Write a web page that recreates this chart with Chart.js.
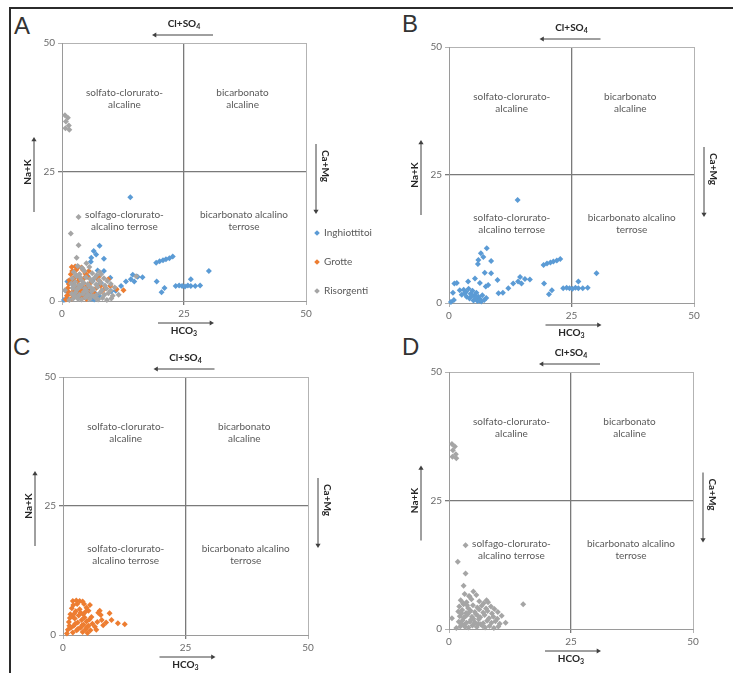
<!DOCTYPE html>
<html>
<head>
<meta charset="utf-8">
<script src="https://cdn.jsdelivr.net/npm/chart.js@4.4.1/dist/chart.umd.min.js"></script>
<style>
body { margin: 0; background: #fff; width: 733px; height: 673px; overflow: hidden; position: relative; font-family: Lato, 'Open Sans', sans-serif; }
.frame { position: absolute; left: 9px; top: 7px; width: 740px; height: 680px; border-left: 2px solid #2b2b2b; border-top: 2px solid #2b2b2b; }
canvas { position: absolute; }
.letter { position: absolute; font-family: 'Liberation Sans', Arial, sans-serif; font-size: 24px; line-height: 24px; color: #333; }
#legend { position: absolute; left: 315px; top: 225px; font-size: 10px; color: #595959; }
#legend div { height: 29px; line-height: 14px; white-space: nowrap; }
#legend .mk { display: inline-block; width: 4px; height: 4px; transform: rotate(45deg); margin-right: 5px; vertical-align: middle; }
</style>
</head>
<body>
<div class="frame"></div>
<div class="letter" style="left:14px;top:14px">A</div>
<div class="letter" style="left:402px;top:12px">B</div>
<div class="letter" style="left:13px;top:335px">C</div>
<div class="letter" style="left:402px;top:335px">D</div>

<canvas id="cA" width="360" height="340" style="left:10px;top:8px"></canvas>
<canvas id="cB" width="358" height="340" style="left:375px;top:8px"></canvas>
<canvas id="cC" width="360" height="333" style="left:10px;top:340px"></canvas>
<canvas id="cD" width="358" height="333" style="left:375px;top:340px"></canvas>
<div id="legend"></div>

<script>
// ---- data ----
const axisTicks = [0, 25, 50];
const seriesNames = ['Inghiottitoi', 'Grotte', 'Risorgenti'];

const inghiottitoiX = [14.0, 7.7, 6.5, 7.0, 6.0, 8.6, 5.9, 19.3, 20.0, 20.7, 21.3, 22.0, 22.7, 8.6, 30.1,
  5.3, 3.9, 9.9, 14.5, 14.1, 15.5, 13.1, 16.5, 19.4, 7.5, 8.0, 1.1, 2.2, 12.1, 10.1, 21.0, 20.4, 26.4,
  23.3, 24.0, 24.6, 25.2, 25.8, 26.4, 27.3, 28.3,
  3.0, 3.5, 4.0, 4.4, 4.8, 5.2, 5.6, 6.0, 6.3, 6.8, 7.2, 3.6, 4.2, 5.0, 5.8, 6.6, 7.6, 2.6, 1.0, 0.4,
  1.6, 0.8, 6.3, 7.3, 11.0, 14.8, 4.6, 5.4, 6.2, 3.2];
const inghiottitoiY = [20.1, 10.7, 9.7, 9.0, 8.4, 8.2, 7.6, 7.4, 7.7, 7.9, 8.1, 8.3, 8.6, 5.8, 5.8,
  4.8, 4.2, 4.5, 5.1, 4.2, 4.7, 3.8, 4.6, 3.8, 3.2, 3.5, 3.8, 2.5, 2.9, 1.9, 2.5, 1.7, 4.2,
  2.9, 3.0, 2.9, 2.8, 3.0, 2.9, 2.9, 3.0,
  2.6, 2.2, 2.8, 1.8, 2.4, 1.5, 2.0, 1.2, 0.8, 1.5, 0.6, 1.2, 0.9, 0.5, 0.4, 0.3, 1.0, 1.6, 0.6, 0.2,
  3.9, 2.0, 3.9, 5.9, 2.0, 3.8, 1.3, 1.0, 0.5, 1.9];

const grotteX = [2.0, 2.7, 3.4, 4.0, 4.3, 4.8, 5.2, 4.6, 5.5, 5.8, 7.5, 7.7, 7.2, 9.5, 9.9, 11.2, 12.6,
  6.5, 8.2, 7.0, 8.8, 1.0, 1.2, 1.5, 1.8, 2.0, 2.2, 2.4, 2.6, 2.8, 3.0, 3.2, 3.4, 3.6, 3.8, 4.0, 4.2,
  4.4, 4.6, 4.8, 5.0, 5.2, 5.4, 5.6, 2.1, 1.4, 2.9, 3.6, 0.8, 1.6, 2.5,
  1.3, 1.9, 2.3, 3.1, 3.9, 4.1, 4.9, 6.0, 6.8, 7.9];
const grotteY = [6.6, 6.7, 6.6, 6.5, 6.0, 5.3, 4.7, 4.5, 5.8, 3.5, 4.7, 3.9, 4.3, 4.2, 2.9, 2.3, 2.1,
  1.6, 1.9, 2.5, 2.4, 1.0, 2.5, 4.0, 5.2, 0.5, 1.8, 3.2, 4.6, 0.9, 2.4, 3.8, 5.0, 1.4, 2.9, 0.6, 2.0,
  3.4, 1.1, 2.6, 0.4, 1.8, 3.0, 0.9, 5.8, 3.3, 6.0, 4.3, 0.3, 1.4, 2.2,
  1.8, 3.6, 4.1, 1.2, 1.9, 4.0, 1.5, 2.2, 1.0, 2.9];

const risorgentiX = [0.6, 1.2, 0.8, 1.4, 0.7, 1.5, 3.4, 1.8, 3.4, 3.0, 5.0, 15.2, 7.7, 11.6, 0.6, 4.2,
  3.2, 4.1, 5.6, 2.4, 3.6, 4.6, 6.2, 7.1, 8.0, 2.1, 3.0, 3.9, 4.9, 5.8, 6.7, 7.6, 8.6, 9.3,
  1.9, 2.7, 3.5, 4.4, 5.3, 6.2, 7.0, 7.9, 8.8, 10.0, 10.8, 2.2, 3.0, 3.8, 4.7, 5.5, 6.4, 7.3, 8.2, 9.1, 9.9,
  2.0, 2.8, 3.6, 4.5, 5.3, 6.1, 7.0, 7.8, 8.7, 9.5, 10.4, 2.3, 3.1, 4.0, 4.8, 5.7, 6.5, 7.4, 8.3, 9.2, 10.1, 1.5,
  2.5, 3.3, 4.3, 5.1, 6.0, 6.9, 2.6, 3.4, 4.2, 5.0, 5.9, 2.9, 3.7];
const risorgentiY = [36.0, 35.5, 34.8, 34.0, 33.5, 33.2, 16.3, 13.1, 10.8, 8.4, 7.3, 4.8, 5.6, 1.2, 2.1, 6.3,
  6.8, 6.4, 6.6, 5.6, 5.2, 5.8, 5.4, 5.0, 5.2, 4.4, 4.8, 4.1, 4.6, 4.2, 4.5, 4.0, 4.4, 3.9,
  3.4, 3.7, 3.1, 3.6, 3.3, 3.8, 3.2, 3.5, 3.0, 3.3, 2.6, 2.5, 2.2, 2.8, 2.4, 2.9, 2.3, 2.7, 2.1, 2.4, 2.0,
  1.4, 1.7, 1.2, 1.8, 1.3, 1.9, 1.1, 1.6, 1.2, 1.5, 1.0, 0.5, 0.8, 0.3, 0.7, 0.4, 0.9, 0.3, 0.6, 0.2, 0.5, 0.2,
  1.0, 0.4, 1.4, 0.9, 1.0, 0.6, 3.0, 2.5, 3.3, 2.0, 2.6, 5.0, 4.6];

const quadrantX = [12.8, 37, 12.8, 37.3];
const quadrantY = [39.1, 39.1, 15.5, 15.5];
const quadTexts = [['solfato-clorurato-', 'alcaline'], ['bicarbonato', 'alcaline'],
  ['solfato-clorurato-', 'alcalino terrose'], ['bicarbonato alcalino', 'terrose']];
const quadTextsTypo = [['solfato-clorurato-', 'alcaline'], ['bicarbonato', 'alcaline'],
  ['solfago-clorurato-', 'alcalino terrose'], ['bicarbonato alcalino', 'terrose']];

const seriesColors = ['#5b9bd5', '#ed7d31', '#a5a5a5'];

Chart.defaults.font.family = "Lato, 'Open Sans', sans-serif";

function pts(xs, ys) {
  return xs.map((v, i) => ({ x: v, y: ys[i] }));
}

function ds(i, xs, ys, order) {
  return {
    label: seriesNames[i],
    data: pts(xs, ys),
    backgroundColor: seriesColors[i],
    borderColor: seriesColors[i],
    pointStyle: 'rectRot',
    pointRadius: 3,
    borderWidth: 0,
    order: order
  };
}

function arrow(ctx, x1, y1, x2, y2) {
  ctx.beginPath();
  ctx.moveTo(x1, y1);
  ctx.lineTo(x2, y2);
  ctx.stroke();
  const a = Math.atan2(y2 - y1, x2 - x1);
  ctx.beginPath();
  ctx.moveTo(x2 + Math.cos(a) * 2, y2 + Math.sin(a) * 2);
  ctx.lineTo(x2 + Math.cos(a + 2.3) * 3.5, y2 + Math.sin(a + 2.3) * 3.5);
  ctx.lineTo(x2 + Math.cos(a - 2.3) * 3.5, y2 + Math.sin(a - 2.3) * 3.5);
  ctx.closePath();
  ctx.fill();
}

function subText(ctx, main, sub, cx, cy) {
  ctx.font = "bold 10px Lato";
  const w1 = ctx.measureText(main).width;
  ctx.font = "bold 7px Lato";
  const w2 = ctx.measureText(sub).width;
  const x0 = cx - (w1 + w2) / 2;
  ctx.textAlign = 'left';
  ctx.textBaseline = 'middle';
  ctx.font = "bold 10px Lato";
  ctx.fillText(main, x0, cy);
  ctx.font = "bold 7px Lato";
  ctx.fillText(sub, x0 + w1, cy + 3);
}

// quadrant names, arrows and ion labels round the square
const decor = {
  id: 'decor',
  beforeDatasetsDraw(chart, args, opts) {
    const { ctx } = chart;
    const sx = chart.scales.x, sy = chart.scales.y;
    ctx.save();
    ctx.font = "10px Lato";
    ctx.fillStyle = '#595959';
    ctx.textAlign = 'center';
    ctx.textBaseline = 'middle';
    opts.texts.forEach((lines, i) => {
      const px = sx.getPixelForValue(quadrantX[i]);
      const py = sy.getPixelForValue(quadrantY[i]);
      lines.forEach((t, j) => ctx.fillText(t, px, py + (j - (lines.length - 1) / 2) * 12));
    });
    ctx.restore();
  },
  afterDraw(chart) {
    const { ctx, chartArea: a } = chart;
    const cx = (a.left + a.right) / 2, cy = (a.top + a.bottom) / 2;
    ctx.save();
    ctx.strokeStyle = '#404040';
    ctx.fillStyle = '#404040';
    ctx.lineWidth = 1;
    arrow(ctx, cx + 29, a.top - 8, cx - 30, a.top - 8);
    arrow(ctx, cx - 26, a.bottom + 22, cx + 28, a.bottom + 22);
    arrow(ctx, a.left - 28, cy + 40, a.left - 28, cy - 33);
    arrow(ctx, a.right + 10, cy - 28, a.right + 10, cy + 40);

    ctx.fillStyle = '#262626';
    subText(ctx, 'Cl+SO', '4', cx, a.top - 19);
    subText(ctx, 'HCO', '3', cx, a.bottom + 30);
    ctx.font = "bold 10px Lato";
    ctx.textAlign = 'center';
    ctx.textBaseline = 'middle';
    ctx.save();
    ctx.translate(a.left - 34, cy);
    ctx.rotate(-Math.PI / 2);
    ctx.fillText('Na+K', 0, 0);
    ctx.restore();
    ctx.save();
    ctx.translate(a.right + 19, cy - 6);
    ctx.rotate(Math.PI / 2);
    ctx.fillText('Ca+Mg', 0, 0);
    ctx.restore();
    ctx.restore();
  }
};

function axis(pos) {
  return {
    type: 'linear',
    position: pos,
    min: 0,
    max: 50,
    afterBuildTicks: s => { s.ticks = axisTicks.map(v => ({ value: v })); },
    afterFit: s => { if (pos === 'left') s.width = 20; else s.height = 20; },
    ticks: { color: '#6b6b6b', font: { size: 10 }, padding: 3 },
    grid: {
      color: c => (c.tick && c.tick.value === 25) ? '#7a7a7a' : '#b3b3b3',
      lineWidth: c => (c.tick && c.tick.value === 25) ? 1.3 : 1,
      tickLength: 4
    },
    border: { color: '#9a9a9a', width: 1 }
  };
}

function makeChart(id, datasets, pad, texts) {
  return new Chart(document.getElementById(id), {
    type: 'scatter',
    data: { datasets: datasets },
    options: {
      responsive: false,
      animation: false,
      clip: false,
      layout: { padding: pad },
      plugins: { legend: { display: false }, tooltip: { enabled: false }, decor: { texts: texts } },
      scales: { x: axis('bottom'), y: axis('left') }
    },
    plugins: [decor]
  });
}

// panel A: grey drawn on top, then orange, blue underneath
const chartA = makeChart('cA', [
  ds(0, inghiottitoiX, inghiottitoiY, 2),
  ds(1, grotteX, grotteY, 1),
  ds(2, risorgentiX, risorgentiY, 0)
], { left: 32, top: 35, right: 64, bottom: 27 }, quadTextsTypo);

makeChart('cB', [ds(0, inghiottitoiX, inghiottitoiY, 0)],
  { left: 54, top: 39, right: 39, bottom: 25 }, quadTexts);
makeChart('cC', [ds(1, grotteX, grotteY, 0)],
  { left: 33, top: 37, right: 62, bottom: 18 }, quadTexts);
makeChart('cD', [ds(2, risorgentiX, risorgentiY, 0)],
  { left: 54, top: 32, right: 40, bottom: 24 }, quadTextsTypo);

// legend of panel A, built from its datasets in series order
const legendBox = document.getElementById('legend');
chartA.data.datasets.forEach(d => {
  const row = document.createElement('div');
  const mk = document.createElement('span');
  mk.className = 'mk';
  mk.style.background = d.backgroundColor;
  row.appendChild(mk);
  row.appendChild(document.createTextNode(d.label));
  legendBox.appendChild(row);
});
</script>
</body>
</html>
